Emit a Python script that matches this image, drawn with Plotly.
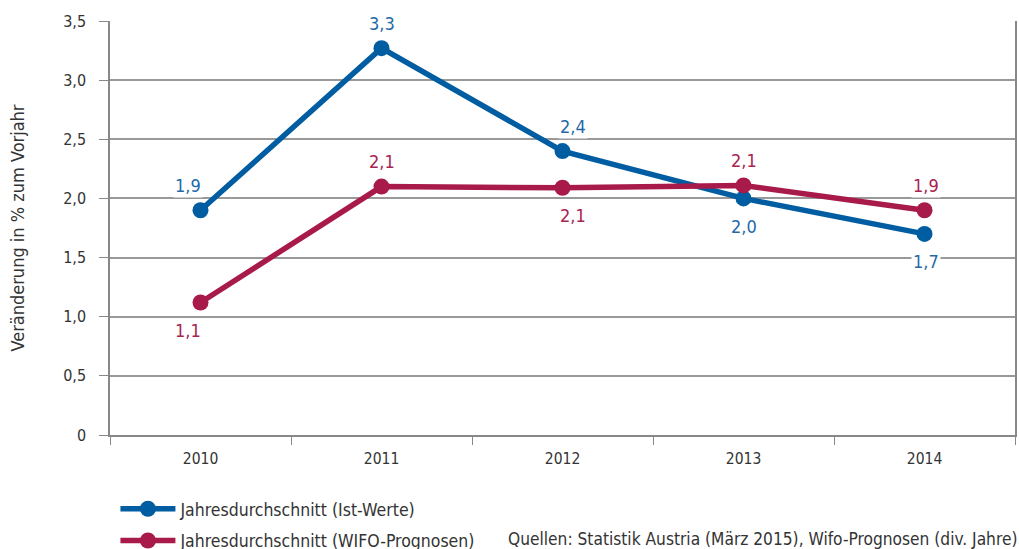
import plotly.graph_objects as go

# data
years = ['2010', '2011', '2012', '2013', '2014']
ist_werte = [1.9, 3.27, 2.4, 2.0, 1.7]
ist_labels = ['1,9', '3,3', '2,4', '2,0', '1,7']
wifo_werte = [1.12, 2.1, 2.09, 2.11, 1.9]
wifo_labels = ['1,1', '2,1', '2,1', '2,1', '1,9']
y_ticks = [0, 0.5, 1.0, 1.5, 2.0, 2.5, 3.0, 3.5]
y_ticktext = ['0', '0,5', '1,0', '1,5', '2,0', '2,5', '3,0', '3,5']

# label placement (above/below the point, small sideways nudge per year)
ist_pos = ['top', 'top', 'top', 'bottom', 'bottom']
wifo_pos = ['bottom', 'top', 'bottom', 'top', 'top']
label_dx = [-13, 0, 10, 0, 1]

BLUE = '#005da1'
RED = '#a81a4a'
BLUE_TXT = '#1f6aa8'
RED_TXT = '#a8244f'
FONT = 'DejaVu Sans Condensed, Liberation Sans Narrow, Roboto Condensed, Noto Sans'

fig = go.Figure()
fig.add_trace(go.Scatter(x=years, y=ist_werte, mode='lines+markers',
                         name='Jahresdurchschnitt (Ist-Werte)', legendgroup='a',
                         line=dict(color=BLUE, width=5.5),
                         marker=dict(color=BLUE, size=16)))
fig.add_trace(go.Scatter(x=years, y=wifo_werte, mode='lines+markers',
                         name='Jahresdurchschnitt (WIFO-Prognosen)', legendgroup='b',
                         line=dict(color=RED, width=5.5),
                         marker=dict(color=RED, size=16)))

# value labels, white box so grid lines are hidden behind them
# (category axis: annotations placed by category index)
for vals, labels, pos, col in [(ist_werte, ist_labels, ist_pos, BLUE_TXT),
                               (wifo_werte, wifo_labels, wifo_pos, RED_TXT)]:
    for i, (v, t, p) in enumerate(zip(vals, labels, pos)):
        fig.add_annotation(x=i, y=v, text=t, showarrow=False,
                           xshift=label_dx[i],
                           yshift=25 if p == 'top' else -28,
                           bgcolor='white', borderpad=1,
                           font=dict(size=18, color=col, family=FONT))

fig.add_annotation(xref='paper', yref='paper', x=1.004, y=-0.222,
                   xanchor='right', yanchor='top', showarrow=False,
                   text='Quellen: Statistik Austria (März 2015), Wifo-Prognosen (div. Jahre)',
                   font=dict(size=17.2, color='#333333', family=FONT))

fig.update_xaxes(type='category', range=[-0.5, 4.5], tickson='boundaries',
                 ticks='outside', ticklen=8, tickcolor='#888888', showline=True,
                 linecolor='#888888', linewidth=1.5, showgrid=False,
                 tickangle=0, ticklabelstandoff=9,
                 tickfont=dict(size=15.5, color='#333333'))
fig.update_yaxes(range=[0, 3.5], tickvals=y_ticks, ticktext=y_ticktext,
                 ticks='outside', ticklen=9, tickcolor='#888888',
                 showline=True, mirror=True, linecolor='#888888',
                 linewidth=1.5, gridcolor='#999999', gridwidth=1.5,
                 zeroline=False, ticklabelstandoff=10,
                 tickfont=dict(size=16, color='#333333'),
                 title=dict(text='Veränderung in % zum Vorjahr', standoff=34,
                            font=dict(size=18, color='#333333')))

fig.update_layout(width=1019, height=549,
                  margin=dict(l=110, r=4, t=21, b=114, autoexpand=False),
                  plot_bgcolor='white', paper_bgcolor='white',
                  font=dict(family=FONT),
                  legend=dict(x=0.006, y=-0.135, xanchor='left', yanchor='top',
                              tracegroupgap=6, itemwidth=55,
                              font=dict(size=17.5, color='#333333')))

# drop the browser's default body margin so the figure sits at 0,0
fig.write_html('out.html', config={'displayModeBar': False},
               post_script="document.body.style.margin='0';")
